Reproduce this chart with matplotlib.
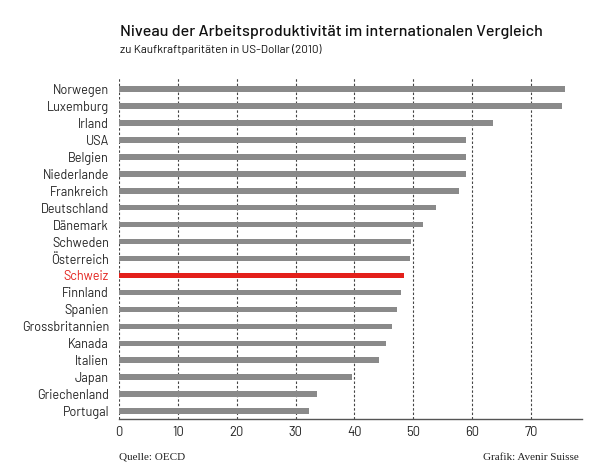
import matplotlib
matplotlib.use("Agg")
import matplotlib.pyplot as plt

countries = ["Norwegen", "Luxemburg", "Irland", "USA", "Belgien", "Niederlande",
             "Frankreich", "Deutschland", "Dänemark", "Schweden", "Österreich",
             "Schweiz", "Finnland", "Spanien", "Grossbritannien", "Kanada",
             "Italien", "Japan", "Griechenland", "Portugal"]
values = [75.8, 75.2, 63.6, 58.9, 58.9, 58.9, 57.8, 53.8, 51.7, 49.6, 49.5,
          48.4, 47.9, 47.3, 46.4, 45.3, 44.2, 39.5, 33.7, 32.2]
highlight = "Schweiz"
xticks = [0, 10, 20, 30, 40, 50, 60, 70]

SANS = ["Barlow", "DejaVu Sans"]
SERIF = ["Liberation Serif", "DejaVu Serif"]
plt.rcParams['font.family'] = SANS

fig = plt.figure(figsize=(6, 4.76), dpi=100)
ax = fig.add_axes([119/600, 1-419.3/476, (581.7-119)/600, (419.3-77.3)/476])

gray = "#8a8a8a"
red = "#e3201b"
ypos = list(range(len(countries)))
colors = [red if c == highlight else gray for c in countries]
ax.barh(ypos, values, height=0.32, color=colors, zorder=3)

for x in xticks:
    ax.axvline(x, color="#444444", lw=0.8, ls=(0, (2.2, 1.8)), zorder=1)

ax.set_xlim(0, 78.6)
ax.set_ylim(19.49, -0.7)
ax.set_xticks(xticks)
ax.set_xticklabels([str(x) for x in xticks], fontsize=9.4, color="#222222")
ax.set_yticks(ypos)
ax.set_yticklabels(countries, fontsize=9.1)
for lbl, c in zip(ax.get_yticklabels(), countries):
    lbl.set_color(red if c == highlight else "#222222")
ax.tick_params(axis="both", length=0)
ax.tick_params(axis="y", pad=7.2)
ax.tick_params(axis="x", pad=4.5)
for s in ["top", "right", "left"]:
    ax.spines[s].set_visible(False)
ax.spines["bottom"].set_color("#555555")
ax.spines["bottom"].set_linewidth(1.0)

fig.text(120/600, 1-35.7/476, "Niveau der Arbeitsproduktivität im internationalen Vergleich",
         fontsize=11.6, weight="medium", color="#111111", va="baseline", ha="left")
fig.text(120/600, 1-52.7/476, "zu Kaufkraftparitäten in US-Dollar (2010)",
         fontsize=8.4, color="#111111", va="baseline", ha="left")
fig.text(119/600, 1-459.3/476, "Quelle: OECD", fontsize=8.0, family=SERIF,
         color="#222222", va="baseline", ha="left")
fig.text(579/600, 1-460.5/476, "Grafik: Avenir Suisse", fontsize=8.0, family=SERIF,
         color="#222222", va="baseline", ha="right")

fig.savefig("out.png", dpi=100)
